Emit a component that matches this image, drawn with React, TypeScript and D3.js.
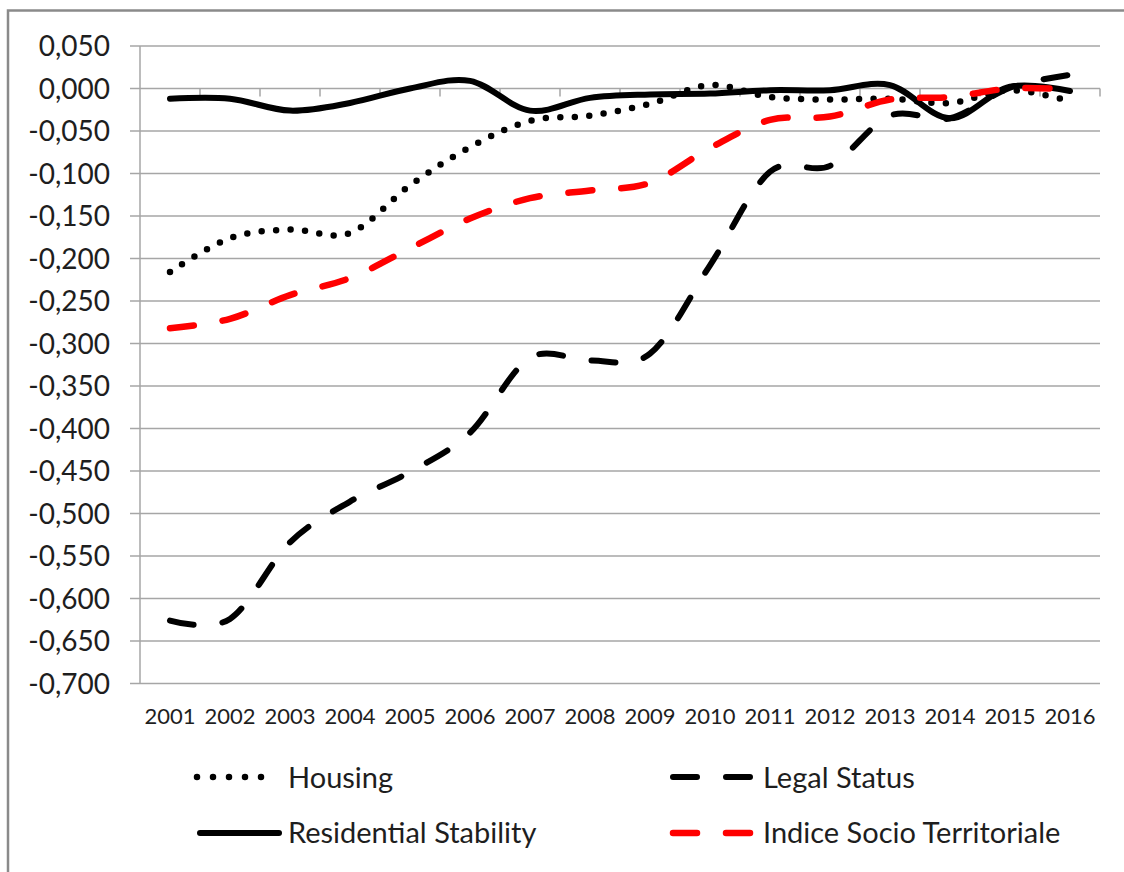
import React from "react";
import * as d3 from "d3";

const years = [2001, 2002, 2003, 2004, 2005, 2006, 2007, 2008, 2009, 2010, 2011, 2012, 2013, 2014, 2015, 2016];
const housing = [-0.216, -0.176, -0.166, -0.170, -0.114, -0.069, -0.038, -0.032, -0.018, 0.004, -0.010, -0.013, -0.012, -0.017, -0.002, -0.015];
const legalStatus = [-0.626, -0.624, -0.534, -0.486, -0.451, -0.405, -0.317, -0.320, -0.312, -0.208, -0.098, -0.091, -0.032, -0.035, 0.001, 0.016];
const residential = [-0.012, -0.012, -0.026, -0.017, 0.0, 0.009, -0.026, -0.011, -0.007, -0.006, -0.002, -0.002, 0.004, -0.035, 0.002, -0.003];
const indice = [-0.282, -0.271, -0.243, -0.223, -0.188, -0.153, -0.129, -0.120, -0.111, -0.070, -0.037, -0.033, -0.013, -0.010, 0.0, -0.001];
const yTicks = [0.05, 0.0, -0.05, -0.1, -0.15, -0.2, -0.25, -0.3, -0.35, -0.4, -0.45, -0.5, -0.55, -0.6, -0.65, -0.7];

const W = 1124;
const H = 872;
const FONT = "Lato, 'Open Sans', sans-serif";
const GRID = "#a6a6a6";
const TEXT = "#1e1e1e";

export default function App() {
  const x = d3.scaleBand<number>().domain(years).range([140, 1100]);
  const y = d3.scaleLinear().domain([-0.7, 0.05]).range([683.5, 46]);
  const cx = (yr: number) => (x(yr) as number) + x.bandwidth() / 2;

  const line = (vals: number[]) =>
    d3
      .line<number>()
      .x((_, i) => cx(years[i]))
      .y((v) => y(v))
      .curve(d3.curveCardinal.tension(0))(vals) as string;

  const fmt = (v: number) => {
    const s = Math.abs(v).toFixed(3).replace(".", ",");
    return v < -1e-9 ? "-" + s : s;
  };

  const boundaries = years.map((yr) => (x(yr) as number) + x.bandwidth());

  return (
    <svg width={W} height={H} style={{ position: "absolute", left: 0, top: 0, background: "#fff" }}>
      <rect x={0} y={0} width={W} height={H} fill="#fff" />
      {/* frame */}
      <rect x={8} y={10.5} width={W + 10} height={H + 10} fill="none" stroke="#8a8a8a" strokeWidth={2.5} />

      {/* gridlines */}
      {yTicks.map((t) => (
        <line key={t} x1={130} x2={1100} y1={y(t)} y2={y(t)} stroke={GRID} strokeWidth={1.5} />
      ))}
      {/* y axis */}
      <line x1={140} x2={140} y1={y(0.05)} y2={y(-0.7)} stroke={GRID} strokeWidth={1.5} />
      {/* x-axis tick marks at zero line */}
      {boundaries.map((b, i) => (
        <line key={i} x1={b} x2={b} y1={y(0)} y2={y(0) + 8} stroke={GRID} strokeWidth={1.5} />
      ))}

      {/* y labels */}
      {yTicks.map((t) => (
        <text key={t} x={110} y={y(t)} dy="0.36em" textAnchor="end" fontFamily={FONT} fontSize={28} fill={TEXT}>
          {fmt(t)}
        </text>
      ))}
      {/* x labels */}
      {years.map((yr) => (
        <text key={yr} x={cx(yr)} y={724} textAnchor="middle" fontFamily={FONT} fontSize={22} fill={TEXT}>
          {yr}
        </text>
      ))}

      {/* series */}
      <path d={line(housing)} fill="none" stroke="#000" strokeWidth={6.5} strokeLinecap="round" strokeDasharray="0 14.5" />
      <path d={line(legalStatus)} fill="none" stroke="#000" strokeWidth={6} strokeLinecap="round" strokeDasharray="24 29" />
      <path d={line(residential)} fill="none" stroke="#000" strokeWidth={6} strokeLinecap="round" />
      <path d={line(indice)} fill="none" stroke="#ff0000" strokeWidth={6.5} strokeLinecap="round" strokeDasharray="24 29" />

      {/* legend */}
      <line x1={197} x2={277} y1={777} y2={777} stroke="#000" strokeWidth={6.5} strokeLinecap="round" strokeDasharray="0 16" />
      <text x={288} y={788} fontFamily={FONT} fontSize={29} fill={TEXT}>Housing</text>
      <line x1={673} x2={750} y1={777} y2={777} stroke="#000" strokeWidth={6} strokeLinecap="round" strokeDasharray="24 29" />
      <text x={763} y={788} fontFamily={FONT} fontSize={29} fill={TEXT}>Legal Status</text>
      <line x1={200} x2={279} y1={833} y2={833} stroke="#000" strokeWidth={6} strokeLinecap="round" />
      <text x={288} y={843} fontFamily={FONT} fontSize={29} fill={TEXT}>Residential Stability</text>
      <line x1={673} x2={750} y1={833} y2={833} stroke="#ff0000" strokeWidth={6.5} strokeLinecap="round" strokeDasharray="24 29" />
      <text x={763} y={843} fontFamily={FONT} fontSize={29} fill={TEXT}>Indice Socio Territoriale</text>
    </svg>
  );
}
